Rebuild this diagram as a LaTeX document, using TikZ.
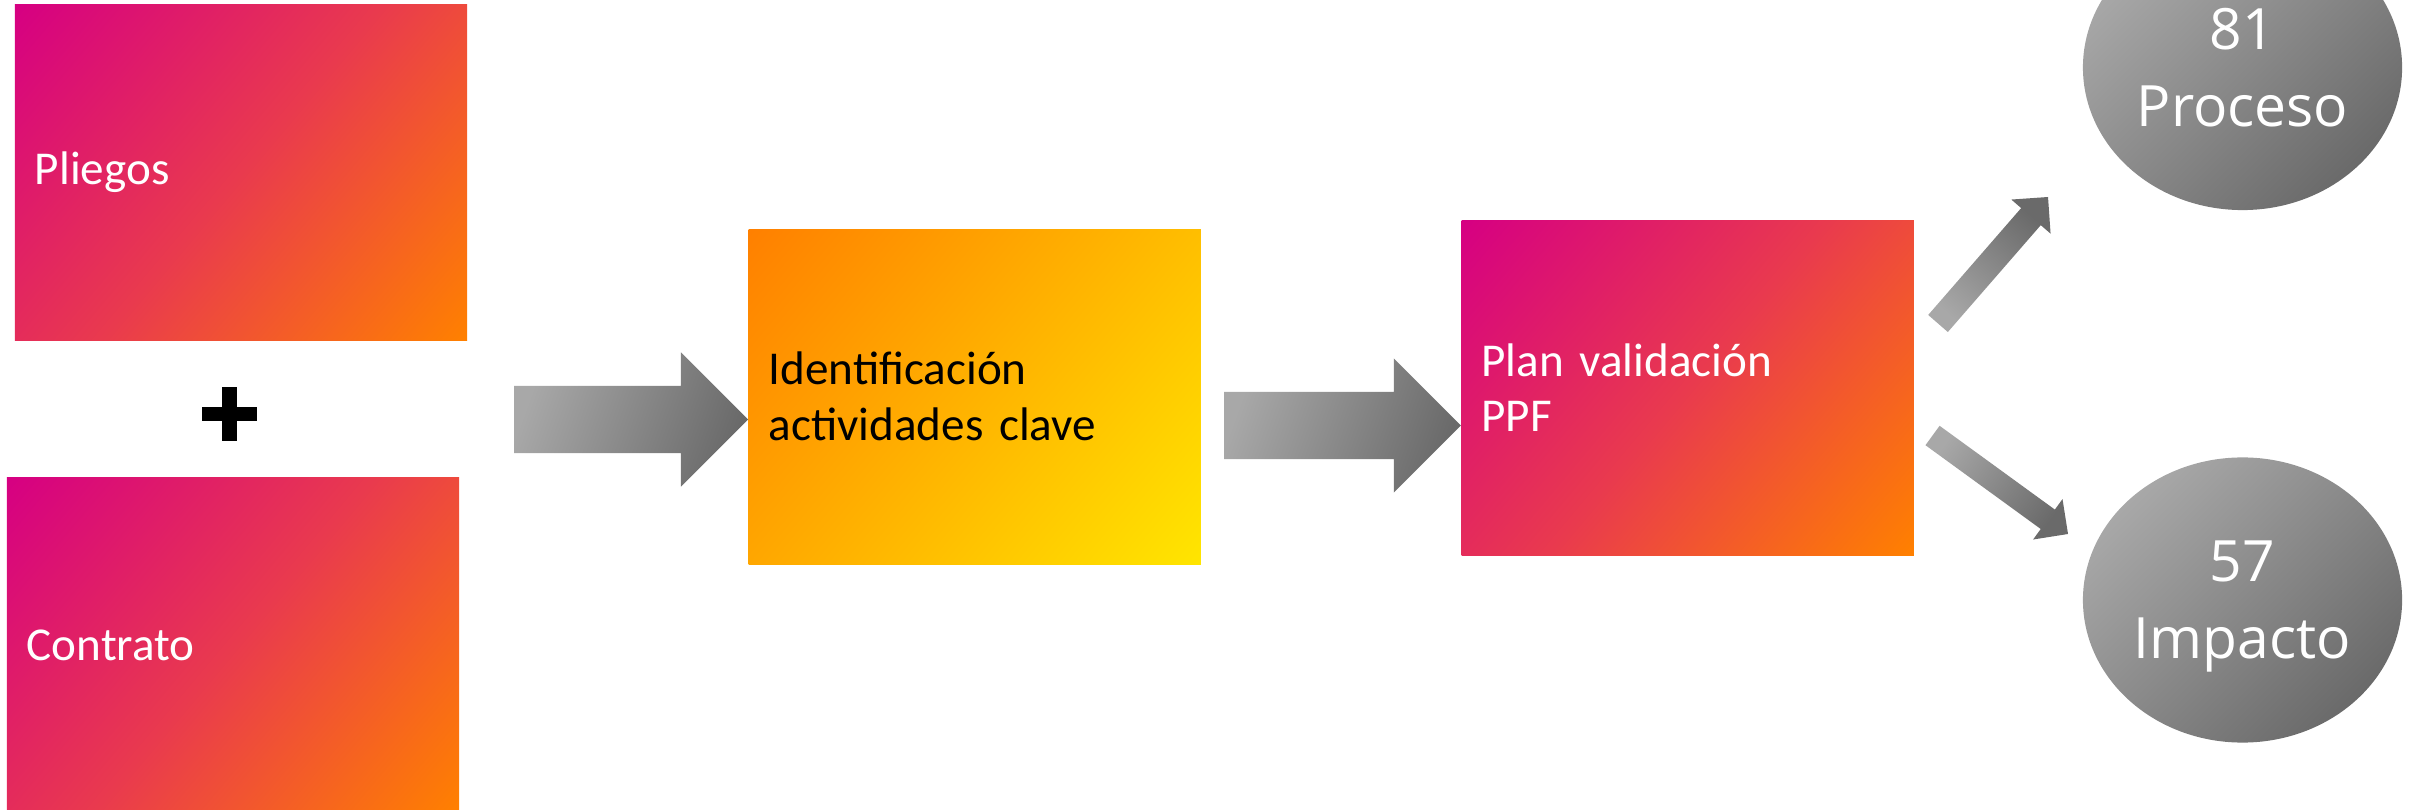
\documentclass[tikz,border=0pt]{standalone}
\usepackage{fontspec}
\setmainfont{Carlito}
\newfontfamily\ovalfont{Open Sans}
\usetikzlibrary{calc,positioning,shapes.geometric}

\definecolor{magA}{RGB}{214,0,130}
\definecolor{redA}{RGB}{233,58,78}
\definecolor{orgA}{RGB}{255,128,0}
\definecolor{yelA}{RGB}{255,229,0}
\definecolor{gryL}{RGB}{168,168,168}
\definecolor{gryD}{RGB}{106,106,106}

% gradients reaching the corners of the box
\pgfdeclareverticalshading{pinkfill}{100bp}{color(0bp)=(orgA); color(15bp)=(orgA); color(50bp)=(redA); color(85bp)=(magA); color(100bp)=(magA)}
\pgfdeclareverticalshading{yellowfill}{100bp}{color(0bp)=(yelA); color(15bp)=(yelA); color(85bp)=(orgA); color(100bp)=(orgA)}

\tikzstyle{pinkbox} = [rectangle, minimum width=4.52cm, minimum height=3.35cm, text width=4.12cm, inner xsep=0.2cm, align=left, text=white, shade, shading=pinkfill, shading angle=50, font=\fontsize{13.4pt}{15.9pt}\selectfont]
\tikzstyle{yellowbox} = [rectangle, minimum width=4.52cm, minimum height=3.35cm, text width=4.12cm, inner xsep=0.2cm, align=left, text=black, shade, shading=yellowfill, shading angle=50, font=\fontsize{13.4pt}{15.9pt}\selectfont]
\tikzstyle{oval} = [ellipse, minimum width=3.19cm, minimum height=2.85cm, inner sep=0pt, align=center, text=white, text depth=0pt, top color=gryL, bottom color=gryD, shading angle=45, font=\ovalfont\fontsize{16.2pt}{21.9pt}\selectfont]
\tikzstyle{arrowshade} = [top color=gryL, bottom color=gryD]

% fat arrow: [shading] tail, tip, shaft half width, head half width, head length
\newcommand{\fatarrow}[6][]{%
  \coordinate (neck) at ($(#3)!#6!(#2)$);
  \shade[arrowshade,#1] ($(#2)!#4!90:(#3)$) -- ($(neck)!#4!90:(#3)$) -- ($(neck)!#5!90:(#3)$) -- (#3)
    -- ($(neck)!#5!-90:(#3)$) -- ($(neck)!#4!-90:(#3)$) -- ($(#2)!#4!-90:(#3)$) -- cycle;
}

\begin{document}
\begin{tikzpicture}[x=0.01cm, y=-0.01cm]
\useasboundingbox (0,0) rectangle (2413,810);
\node (pliegos) [pinkbox] at (241,172.5) {Pliegos};
\node (contrato) [pinkbox, below=1.36cm of pliegos, xshift=-0.08cm] {Contrato};
\node (ident) [yellowbox, right=2.8cm of pliegos, yshift=-2.24cm] {Identificación\\actividades clave};
\node (plan) [pinkbox, right=2.59cm of ident, yshift=0.09cm] {Plan validación\\PPF};
\node (proceso) [oval] at (2242.5,67.5) {81\\Proceso};
\node (impacto) [oval] at (2242.5,600) {57\\Impacto};

% plus sign
\coordinate (plus) at (229.5,414);
\fill ($(plus)+(-27.5,-7)$) rectangle ($(plus)+(27.5,7)$);
\fill ($(plus)+(-7.5,-27)$) rectangle ($(plus)+(7.5,27)$);

\coordinate (a1s) at (514,419.5);
\coordinate (a2s) at (1224,425.5);
\coordinate (a3s) at (1938,323.5);
\coordinate (a3e) at (2048,197);
\coordinate (a4s) at (1932.5,435.5);
\coordinate (a4e) at (2068,534);
\fatarrow[shading angle=70]{a1s}{ident.west |- a1s}{0.335cm}{0.67cm}{0.67cm}
\fatarrow[shading angle=70]{a2s}{plan.west |- a2s}{0.335cm}{0.67cm}{0.67cm}
\fatarrow[shading angle=139]{a3s}{a3e}{0.13cm}{0.26cm}{0.26cm}
\fatarrow[shading angle=54]{a4s}{a4e}{0.12cm}{0.25cm}{0.25cm}
\end{tikzpicture}
\end{document}
